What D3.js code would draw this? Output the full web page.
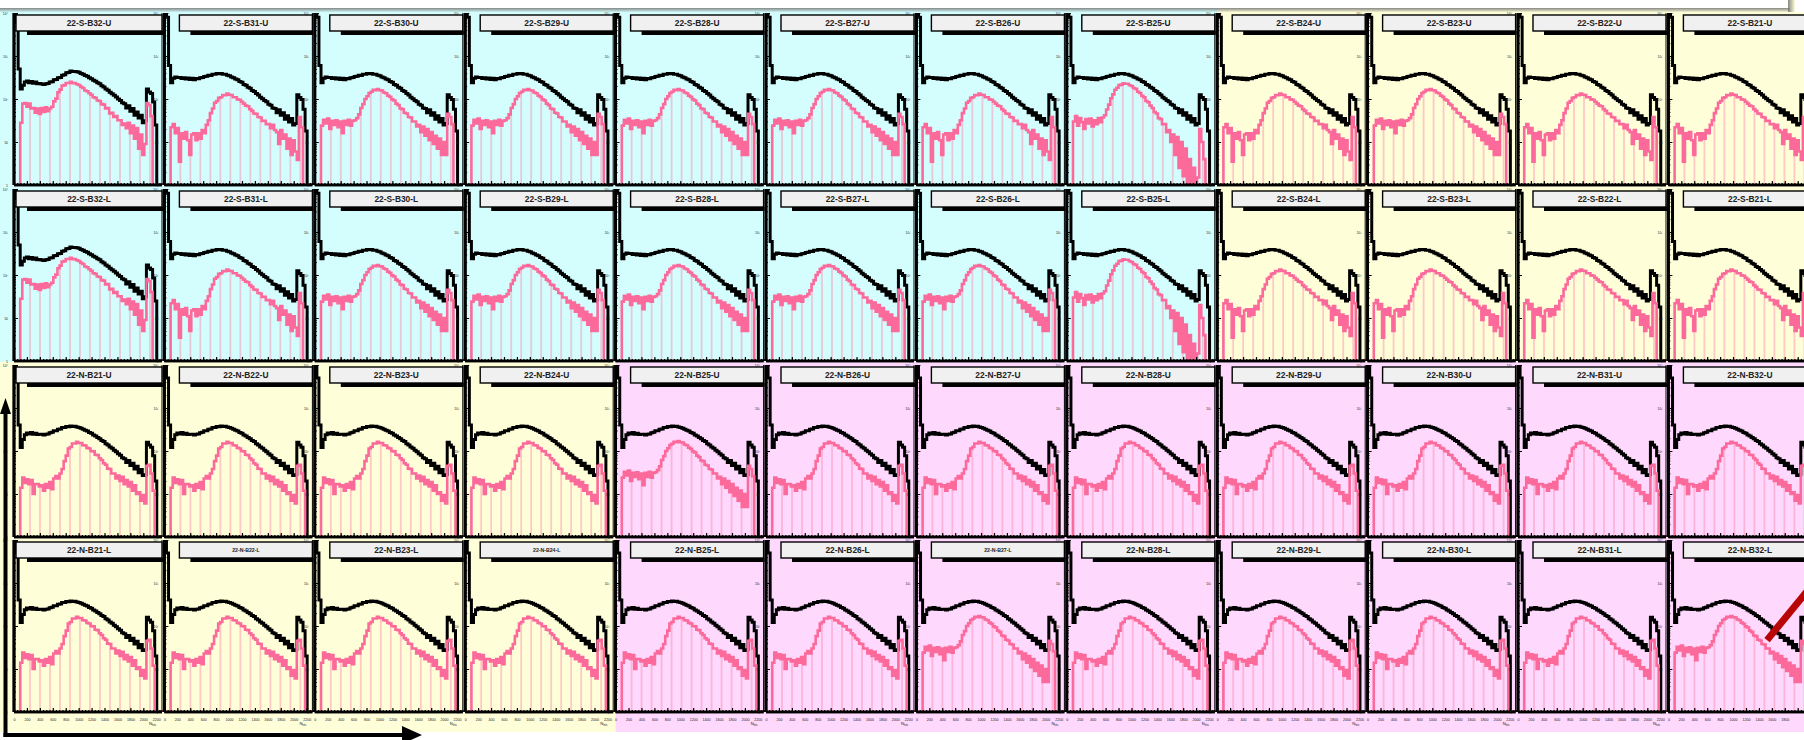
<!DOCTYPE html>
<html><head><meta charset="utf-8">
<script src="https://cdn.jsdelivr.net/npm/d3@7"></script>
<style>html,body{margin:0;padding:0;background:#fff;overflow:hidden}</style>
</head><body>
<svg id="c" width="1804" height="740"></svg>
<script>
// ---- Panel titles (4 rows x 12 columns) ----
const titlesS_U = ["22-S-B32-U","22-S-B31-U","22-S-B30-U","22-S-B29-U","22-S-B28-U","22-S-B27-U","22-S-B26-U","22-S-B25-U","22-S-B24-U","22-S-B23-U","22-S-B22-U","22-S-B21-U"];
const titlesS_L = ["22-S-B32-L","22-S-B31-L","22-S-B30-L","22-S-B29-L","22-S-B28-L","22-S-B27-L","22-S-B26-L","22-S-B25-L","22-S-B24-L","22-S-B23-L","22-S-B22-L","22-S-B21-L"];
const titlesN_U = ["22-N-B21-U","22-N-B22-U","22-N-B23-U","22-N-B24-U","22-N-B25-U","22-N-B26-U","22-N-B27-U","22-N-B28-U","22-N-B29-U","22-N-B30-U","22-N-B31-U","22-N-B32-U"];
const titlesN_L = ["22-N-B21-L","22-N-B22-L","22-N-B23-L","22-N-B24-L","22-N-B25-L","22-N-B26-L","22-N-B27-L","22-N-B28-L","22-N-B29-L","22-N-B30-L","22-N-B31-L","22-N-B32-L"];
const titleRows = [titlesS_U, titlesS_L, titlesN_U, titlesN_L];
// titles printed with a reduced font
const smallTitles = ["22-N-B22-L","22-N-B24-L","22-N-B27-L"];

// ---- Histogram binning: 72 bins of 32 counts from 0 to 2304 ----
const binWidth = 32;
const xMax = 2320;
const xTicks = [0,200,400,600,800,1000,1200,1400,1600,1800,2000,2200];
const yTicks = [1,10,100,1000,10000];
const yTickLabels = ["1","10","10\u00b2","10\u00b3","10\u2074"];

// ---- All-hits spectra (black) ----
const blackA = [90000,6000,500,170,210,250,262,238,255,232,
  248,226,230,222,216,226,228,248,252,280,
  286,310,318,356,368,408,414,446,438,436,
  428,418,392,378,352,336,312,296,272,258,
  238,226,204,190,170,160,144,132,122,112,
  100,92,82,78,62,70,52,60,42,50,
  36,42,28,31,170,145,135,85,25,1,0,0];
const blackB = [90000,8000,600,240,305,325,315,318,298,312,
  292,308,286,302,282,298,296,314,316,334,
  336,356,354,376,374,392,384,390,376,374,
  356,348,326,314,292,280,254,244,218,208,
  188,178,158,150,134,124,110,102,92,86,
  76,72,62,60,48,56,42,48,34,41,
  29,35,25,27,125,108,98,58,18,1,0,0];
const blackN = [90000,5000,400,120,185,238,262,250,268,246,
  260,242,244,245,234,246,248,266,272,294,
  296,320,326,350,350,370,368,382,370,374,
  362,352,336,322,302,292,268,258,236,224,
  206,194,176,166,148,138,124,116,104,96,
  86,80,70,66,54,60,46,52,38,44,
  31,37,27,28,160,138,122,78,20,1,0,0];

// ---- Selected-hits spectra (pink) ----
const pinkA = [0,0,0,28,78,80,66,78,60,62,
  48,60,45,62,50,64,52,60,66,88,
  102,144,165,205,210,236,236,250,232,236,
  220,212,192,180,158,152,136,126,110,106,
  92,90,76,74,60,62,46,48,38,40,
  32,32,25,27,21,28,16,24,12,21,
  7,15,5,9,80,72,40,0,0,0,0,0];
const pinkB = [0,0,0,22,26,16,21,3.5,16,12,
  17,11,5,15,16,11,16,12,19,16,
  25,32,47,60,82,90,106,110,124,122,
  134,126,124,110,110,98,96,86,78,70,
  68,58,53,46,45,38,37,31,31,26,
  26,21,25,19,17,9,19,12,15,7,
  12,5,11,6,3.8,38,22,0,0,0,0,0];
const pinkC = [0,0,0,24,33,27,35,20,31,25,
  32,22,30,16,31,25,33,24,31,32,
  36,44,62,76,100,116,138,148,164,160,
  170,160,158,142,136,120,112,98,92,78,
  72,60,58,48,46,38,37,30,30,23,
  25,17,23,14,20,11,17,9,14,7,
  12,5,10,5,45,38,26,0,0,0,0,0];
const pinkD = [0,0,0,30,40,24,36,29,20,34,
  27,35,23,32,26,36,29,37,42,57,
  74,104,128,164,182,210,216,232,226,226,
  208,200,180,172,148,138,118,110,90,84,
  70,62,50,46,36,34,26,26,17,19,
  10,15,5,13,2.5,10,1.6,7,1,4,
  1,2.5,1,1.5,20,10,4,0,0,0,0,0];
const pinkN = [0,0,0,14,24,18,22,17,21,10,
  17,17,15,16,12,17,14,19,13,23,
  26,23,30,38,58,78,114,124,150,150,
  164,154,154,136,134,118,114,100,98,82,
  80,68,62,52,48,39,38,30,30,23,
  27,20,25,17,21,15,19,12,16,10,
  11,7,9.5,6,45,48,30,12,0,0,0,0];

const blackSets = {A: blackA, B: blackB, N: blackN};
const pinkSets = {A: pinkA, B: pinkB, C: pinkC, D: pinkD, N: pinkN};
const blackOf = [
  ["A","B","B","B","B","B","B","B","B","B","B","B"],
  ["A","B","B","B","B","B","B","B","B","B","B","B"],
  ["N","N","N","N","N","N","N","N","N","N","N","N"],
  ["N","N","N","N","N","N","N","N","N","N","N","N"]];
const pinkOf = [
  ["A","B","C","C","C","C","B","D","B","C","B","B"],
  ["A","B","C","C","C","C","C","D","B","B","B","B"],
  ["N","N","N","N","C","N","N","N","N","N","N","N"],
  ["N","N","N","N","N","N","C","N","N","N","N","C"]];

// marker drawn across the last panel: [count, value] end points
const markerPanel = [3, 11];
const markerLine = [[1525, 47], [2260, 1050]];

// ---- layout ----
const W = 1804, H = 740;
const colStep = 150.4, col0 = 14;
const axisYs = [185, 361, 537, 712];
const plotH = 172, plotW = 150;
const cyan = "#d4fefe", yellow = "#fefed9", pink = "#fed8fd";
const lineBlack = "#000", linePink = "#fb6a9a";
const font = "Liberation Sans, Arial, sans-serif";

const svg = d3.select("#c");
const defs = svg.append("defs");

// background regions
const splitX1 = col0 + colStep * 8, splitX2 = col0 + colStep * 4, splitY = 362;
svg.append("rect").attr("x",0).attr("y",0).attr("width",splitX1).attr("height",splitY).attr("fill",cyan);
svg.append("rect").attr("x",splitX1).attr("y",0).attr("width",W-splitX1).attr("height",splitY).attr("fill",yellow);
svg.append("rect").attr("x",0).attr("y",splitY).attr("width",splitX2).attr("height",732-splitY).attr("fill",yellow);
svg.append("rect").attr("x",splitX2).attr("y",splitY).attr("width",W-splitX2).attr("height",732-splitY).attr("fill",pink);

const toPts = arr => {
  const p = arr.map((v,i)=>[i*binWidth, v]);
  p.push([arr.length*binWidth, arr[arr.length-1]]);
  return p;
};

titleRows.forEach((row, r) => {
  row.forEach((title, c) => {
    const ax = col0 + colStep * c;
    const ay = axisYs[r];
    const x = d3.scaleLinear().domain([0, xMax]).range([ax, ax + plotW]);
    const y = d3.scaleLog().domain([1, 1e4]).range([ay, ay - plotH]).clamp(true);
    const g = svg.append("g");
    const id = "p" + r + "_" + c;

    defs.append("clipPath").attr("id", id + "f")
      .append("rect").attr("x", ax).attr("y", ay - plotH).attr("width", plotW).attr("height", plotH);

    const blk = toPts(blackSets[blackOf[r][c]]);
    const pnk = toPts(pinkSets[pinkOf[r][c]]);
    const yv = v => y(Math.max(v, 1));

    const area = d3.area().x(d=>x(d[0])).y0(ay).y1(d=>yv(d[1])).curve(d3.curveStepAfter);
    const line = d3.line().x(d=>x(d[0])).y(d=>yv(d[1])).curve(d3.curveStepAfter);

    defs.append("clipPath").attr("id", id + "h").append("path").attr("d", area(pnk));

    const plot = g.append("g").attr("clip-path", `url(#${id}f)`);
    // hatch fill of the selected-hits histogram
    plot.append("g").attr("clip-path", `url(#${id}h)`)
      .selectAll("line").data(d3.range(13)).join("line")
      .attr("x1", k => ax + 16 + 10*k).attr("x2", k => ax + 16 + 10*k)
      .attr("y1", ay).attr("y2", ay - plotH)
      .attr("stroke", "#ff88aa").attr("stroke-opacity", 0.45).attr("stroke-width", 1.8);

    plot.append("path").attr("d", line(blk)).attr("fill","none")
      .attr("stroke", lineBlack).attr("stroke-width", 3).attr("stroke-linejoin","miter");
    plot.append("path").attr("d", line(pnk)).attr("fill","none")
      .attr("stroke", linePink).attr("stroke-width", 2.6);

    if (r === markerPanel[0] && c === markerPanel[1]) {
      const ml = d3.line().x(d=>x(d[0])).y(d=>y(d[1]));
      svg.append("path").attr("d", ml(markerLine)).attr("stroke","#b80606")
        .attr("stroke-width", 7).attr("fill","none");
    }

    // right frame edge
    g.append("line").attr("x1", ax+148).attr("x2", ax+148).attr("y1", ay-plotH).attr("y2", ay)
      .attr("stroke","#000").attr("stroke-width",1);

    // x axis
    const minorX = d3.range(0, 2301, 50);
    const xMinor = g.append("g").attr("transform",`translate(0,${ay})`)
      .call(d3.axisBottom(x).tickValues(minorX).tickSize(-2).tickFormat(""));
    const shownX = xTicks.filter(v => x(v) < W - 8);
    const xAxis = g.append("g").attr("transform",`translate(0,${ay})`)
      .call(d3.axisBottom(x).tickValues(xTicks).tickSize(-4).tickPadding(6)
        .tickFormat(v => (r === 3 && shownX.includes(v)) ? d3.format("d")(v) : ""));
    [xMinor, xAxis].forEach(a => {
      a.select(".domain").attr("stroke","#000").attr("stroke-width",2.6)
        .attr("d", `M${ax},0H${ax+148}`);
      a.selectAll(".tick line").attr("stroke","#000").attr("stroke-width",1.2);
    });
    xAxis.selectAll("text").attr("font-family",font)
      .attr("font-size", 3.6).attr("fill","#222");
    if (r === 3 && ax + 142 < W - 2) {
      g.append("text").attr("x", ax + 142).attr("y", ay + 13)
        .attr("font-family",font).attr("font-size", 4).attr("fill","#222")
        .attr("text-anchor","end")
        .text("N").append("tspan").attr("font-size",2.6).attr("dy",1).text("hits");
    }

    // y axis (log)
    const minorY = [];
    [1,10,100,1000].forEach(d => { for (let m = 2; m <= 9; m++) minorY.push(d*m); });
    const yMinor = g.append("g").attr("transform",`translate(${ax},0)`)
      .call(d3.axisLeft(y).tickValues(minorY).tickSize(-2).tickFormat(""));
    const yAxis = g.append("g").attr("transform",`translate(${ax},0)`)
      .call(d3.axisLeft(y).tickValues(yTicks).tickSize(-4).tickPadding(6)
        .tickFormat((d,i) => yTickLabels[i]));
    [yMinor, yAxis].forEach(a => {
      a.select(".domain").attr("stroke","#000").attr("stroke-width",2.8)
        .attr("d", `M0,${ay}V${ay-plotH}`);
      a.selectAll(".tick line").attr("stroke","#000").attr("stroke-width",1);
    });
    yAxis.selectAll("text").attr("font-family",font)
      .attr("font-size", 3.4).attr("fill","#222");

    // title box with shadow
    const tx0 = c === 0 ? ax + 2 : ax + 15;
    const tx1 = ax + 148;
    const ty = ay - 170, th = 16;
    g.append("rect").attr("x", tx0 + 11).attr("y", ty + th).attr("width", tx1 - tx0 - 10).attr("height", 4)
      .attr("fill", "#000");
    g.append("rect").attr("x", tx0).attr("y", ty).attr("width", tx1 - tx0).attr("height", th)
      .attr("fill", "#f0f0f0").attr("stroke", "#000").attr("stroke-width", 1.4);
    const small = smallTitles.includes(title);
    g.append("text").attr("x", (tx0 + tx1) / 2).attr("y", ty + th/2 + (small ? 1.6 : 2.9))
      .attr("text-anchor","middle").attr("font-family",font)
      .attr("font-weight","bold").attr("font-size", small ? 5.2 : 8.4).attr("fill","#222")
      .text(title);
  });
});

// white band across the top with its shadow
const grad = defs.append("linearGradient").attr("id","shadowV").attr("x1",0).attr("y1",0).attr("x2",0).attr("y2",1);
grad.append("stop").attr("offset",0).attr("stop-color","#7a7a7a").attr("stop-opacity",0.9);
grad.append("stop").attr("offset",1).attr("stop-color","#7a7a7a").attr("stop-opacity",0);
const gradH = defs.append("linearGradient").attr("id","shadowH").attr("x1",0).attr("y1",0).attr("x2",1).attr("y2",0);
gradH.append("stop").attr("offset",0).attr("stop-color","#7a7a7a").attr("stop-opacity",0.9);
gradH.append("stop").attr("offset",1).attr("stop-color","#7a7a7a").attr("stop-opacity",0);
svg.append("rect").attr("x",0).attr("y",8).attr("width",1790).attr("height",4.5).attr("fill","url(#shadowV)");
svg.append("rect").attr("x",1788).attr("y",0).attr("width",7).attr("height",12).attr("fill","url(#shadowH)");
svg.append("rect").attr("x",1795).attr("y",0).attr("width",9).attr("height",12).attr("fill","#fff");
svg.append("rect").attr("x",0).attr("y",0).attr("width",1788).attr("height",8).attr("fill","#fff");

// orientation arrows at the lower left
svg.append("rect").attr("x",3.5).attr("y",410).attr("width",4).attr("height",327).attr("fill","#000");
svg.append("path").attr("d","M0,414L5.5,398L11,414Z").attr("fill","#000");
svg.append("rect").attr("x",3.5).attr("y",733).attr("width",402).attr("height",4).attr("fill","#000");
svg.append("path").attr("d","M402,726L422,735L402,744Z").attr("fill","#000");
</script>
</body></html>
